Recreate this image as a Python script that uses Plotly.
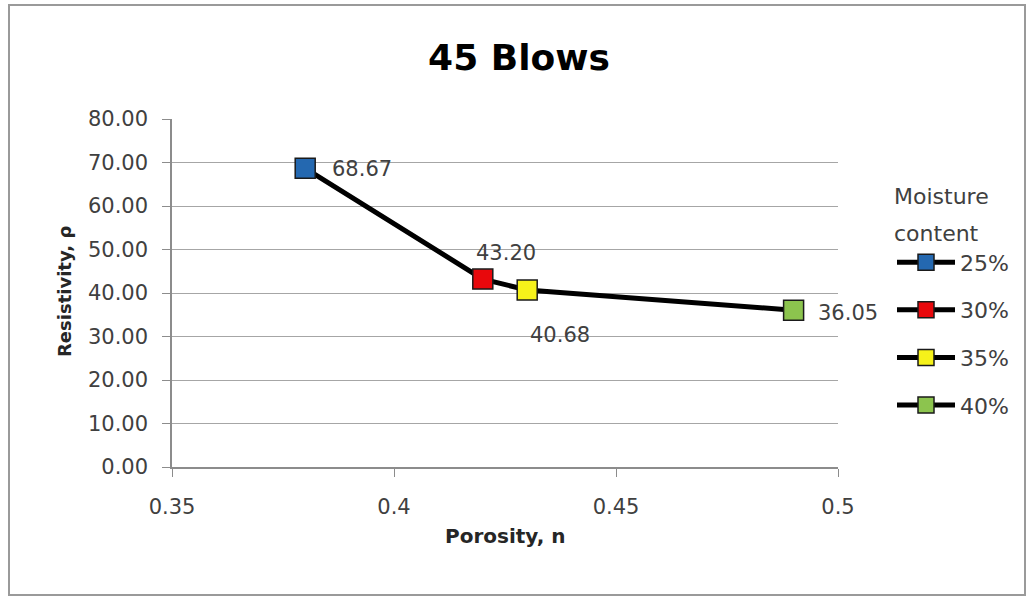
import plotly.graph_objects as go

# Resistivity vs porosity, 45 blows compaction
moisture = ["25%", "30%", "35%", "40%"]
porosity = [0.38, 0.42, 0.43, 0.49]
resistivity = [68.67, 43.20, 40.68, 36.05]
colors = ["#2468B0", "#E8080C", "#F6F21A", "#8CC44E"]

x_ticks = [0.35, 0.40, 0.45, 0.50]
x_tick_text = ["0.35", "0.4", "0.45", "0.5"]

W, H = 1029, 598
ML, MR, MT, MB = 172, 191, 119, 131
PW, PH = W - ML - MR, H - MT - MB


def px(x):
    return (x - ML) / PW


def py(y):
    return (H - MB - y) / PH


FONT = "DejaVu Sans"
TXT = "#404040"
fig = go.Figure()

# connecting line through all points
fig.add_trace(go.Scatter(
    x=porosity, y=resistivity, mode="lines",
    line=dict(color="black", width=5), showlegend=False, hoverinfo="skip",
))

for i, m in enumerate(moisture):
    fig.add_trace(go.Scatter(
        x=[porosity[i]], y=[resistivity[i]], mode="lines+markers", name=m,
        legendgroup=m,
        line=dict(color="black", width=5),
        marker=dict(symbol="square", size=20, color=colors[i],
                    line=dict(color="#1a1a1a", width=1.5)),
    ))

# data labels
label_pos = [
    dict(xanchor="left", xshift=25, yshift=-1),
    dict(xanchor="center", xshift=23, yshift=26),
    dict(xanchor="center", xshift=33, yshift=-45),
    dict(xanchor="left", xshift=22, yshift=-3),
]
annotations = []
for i, v in enumerate(resistivity):
    annotations.append(dict(
        x=porosity[i], y=v, xref="x", yref="y", text=f"{v:.2f}",
        showarrow=False, yanchor="middle",
        font=dict(family=FONT, size=21, color=TXT),
        **label_pos[i],
    ))

# axis titles
annotations.append(dict(
    x=px(64), y=py(292), xref="paper", yref="paper", text="<b>Resistivity, ρ</b>",
    textangle=-90, showarrow=False, xanchor="center", yanchor="middle",
    font=dict(family=FONT, size=18, color="#262626"),
))
annotations.append(dict(
    x=px(505), y=py(536), xref="paper", yref="paper", text="<b>Porosity, n</b>",
    showarrow=False, xanchor="center", yanchor="middle",
    font=dict(family=FONT, size=20, color="#262626"),
))

fig.update_layout(
    width=W, height=H,
    margin=dict(l=ML, r=MR, t=MT, b=MB),
    paper_bgcolor="white", plot_bgcolor="white",
    title=dict(text="<b>45 Blows</b>", x=519 / W, xanchor="center",
               y=(H - 57) / H, yanchor="middle", yref="container",
               font=dict(family=FONT, size=36, color="black")),
    xaxis=dict(range=[0.35, 0.5], tickvals=x_ticks, ticktext=x_tick_text,
               showgrid=False, zeroline=False, showline=True,
               linecolor="#8c8c8c", linewidth=1.5,
               ticks="outside", ticklen=8, tickcolor="#8c8c8c",
               ticklabelstandoff=12,
               tickfont=dict(family=FONT, size=21, color=TXT)),
    yaxis=dict(range=[0, 80], dtick=10, tickformat=".2f",
               showgrid=True, gridcolor="#a6a6a6", gridwidth=1,
               zeroline=False, showline=True,
               linecolor="#8c8c8c", linewidth=1.5,
               ticks="outside", ticklen=8, tickcolor="#8c8c8c",
               ticklabelstandoff=10,
               tickfont=dict(family=FONT, size=21, color=TXT)),
    legend=dict(
        x=px(892), y=py(166), xanchor="left", yanchor="top",
        title=dict(text="<span style='font-size:22px'>Moisture</span><br>"
                        "<span style='font-size:22px'>content</span>",
                   side="top",
                   font=dict(family=FONT, size=29, color=TXT)),
        font=dict(family=FONT, size=22, color=TXT),
        tracegroupgap=16, itemsizing="trace", itemwidth=58,
        bgcolor="rgba(0,0,0,0)",
    ),
    annotations=annotations,
    shapes=[dict(type="rect", xref="paper", yref="paper",
                 x0=px(9), x1=px(1025), y0=py(595), y1=py(5),
                 line=dict(color="#9a9a9a", width=2), layer="below")],
    showlegend=True,
)

fig.write_html("out.html")
